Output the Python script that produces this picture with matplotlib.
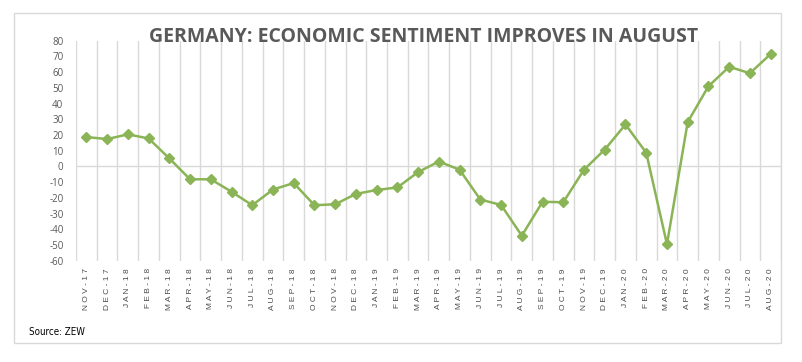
import matplotlib
matplotlib.use("Agg")
import matplotlib.pyplot as plt
from matplotlib.patches import Rectangle

months = ["NOV-17", "DEC-17", "JAN-18", "FEB-18", "MAR-18", "APR-18", "MAY-18", "JUN-18",
          "JUL-18", "AUG-18", "SEP-18", "OCT-18", "NOV-18", "DEC-18", "JAN-19", "FEB-19",
          "MAR-19", "APR-19", "MAY-19", "JUN-19", "JUL-19", "AUG-19", "SEP-19", "OCT-19",
          "NOV-19", "DEC-19", "JAN-20", "FEB-20", "MAR-20", "APR-20", "MAY-20", "JUN-20",
          "JUL-20", "AUG-20"]
sentiment = [18.7, 17.4, 20.4, 17.8, 5.1, -8.2, -8.2, -16.1,
             -24.7, -14.7, -10.6, -24.7, -24.1, -17.5, -15.0, -13.4,
             -3.6, 3.1, -2.1, -21.1, -24.5, -44.1, -22.5, -22.8,
             -2.1, 10.7, 26.7, 8.7, -49.5, 28.2, 51.0, 63.4,
             59.3, 71.5]
yticks = list(range(-60, 81, 10))

W, H = 803, 362
fig = plt.figure(figsize=(W / 100, H / 100), dpi=100)

# outer border
fig.patches.append(Rectangle((14 / W, 1 - 343 / H), (781.5 - 14) / W, (343 - 13) / H,
                             transform=fig.transFigure, fill=False,
                             edgecolor="#d9d9d9", linewidth=1.0))

ax = fig.add_axes([76 / W, 1 - 260.7 / H, (781 - 76) / W, (260.7 - 40.7) / H])
n = len(months)
x = list(range(n))
ax.set_xlim(-0.5, n - 0.5)
ax.set_ylim(-60, 80)

for i in range(n + 1):
    ax.axvline(i - 0.5, color="#d9d9d9", linewidth=1.0, zorder=1)
ax.axhline(0, color="#d9d9d9", linewidth=1.0, zorder=1)

ax.plot(x, sentiment, color="#8AB456", linewidth=1.8, marker="D", markersize=5.6,
        markerfacecolor="#8AB456", markeredgecolor="#8AB456", zorder=3)

for s in ax.spines.values():
    s.set_visible(False)

ax.set_yticks(yticks)
ax.set_yticklabels([str(v) for v in yticks], fontsize=7, color="#595959",
                   family="Open Sans")
ax.set_xticks(x)
ax.set_xticklabels([" ".join(m) for m in months], rotation=90, fontsize=6,
                   color="#4d4d4d", family="Liberation Sans", va="top")
ax.tick_params(axis="both", length=0)
ax.tick_params(axis="y", pad=9)
ax.tick_params(axis="x", pad=5.5)

fig.text(424 / W, 1 - 37 / H, "GERMANY: ECONOMIC SENTIMENT IMPROVES IN AUGUST",
         ha="center", va="center", fontsize=14, fontweight="bold",
         color="#595959", family="Open Sans")

fig.text(29 / W, 1 - 332 / H, "Source: ZEW", ha="left", va="center",
         fontsize=7, color="#000000", fontstretch="condensed",
         family=["Liberation Sans Narrow", "DejaVu Sans Condensed", "DejaVu Sans"])

fig.savefig("out.png", dpi=100)
